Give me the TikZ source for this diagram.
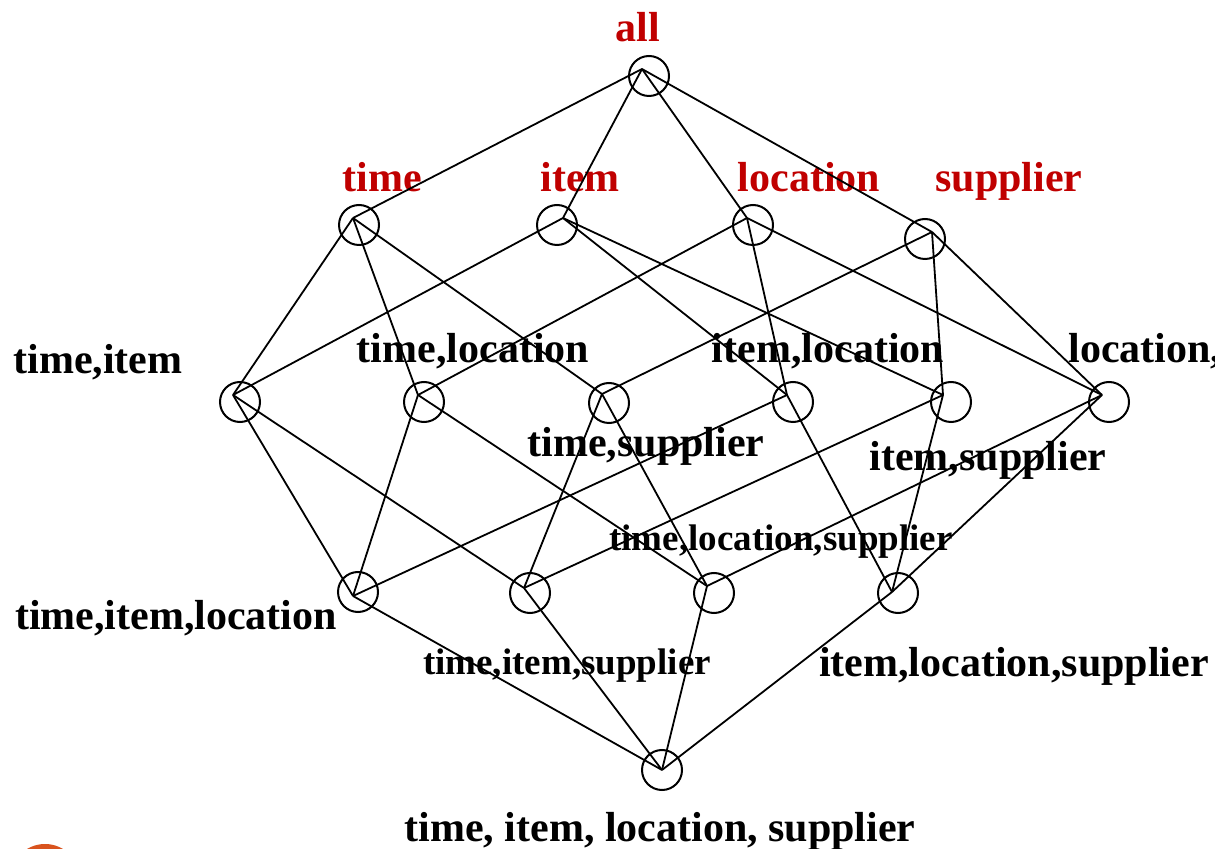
\documentclass[tikz,border=0pt]{standalone}
\usepackage{fontspec}
\setmainfont{Liberation Serif}
\usepackage{tikz}
\usetikzlibrary{positioning}
\definecolor{cubered}{HTML}{C00000}
\definecolor{logoorange}{HTML}{D9531E}

\begin{document}
\begin{tikzpicture}[
  x=0.5pt, y=-0.5pt,
  cuboid/.style={draw, circle, minimum size=20pt, inner sep=0pt, line width=1pt},
  lbl/.style={anchor=base, inner sep=0pt, font=\fontsize{21}{25}\selectfont\bfseries},
  lbltop/.style={lbl, text=cubered},
  lblsmall/.style={anchor=base, inner sep=0pt, font=\fontsize{18.5}{22}\selectfont\bfseries},
  edge/.style={line width=0.9pt}
]
  \useasboundingbox (0,0) rectangle (1215,849);
  \clip (0,0) rectangle (1215,849);

  % corner logo
  \fill[logoorange] (45,879) circle[radius=35];

  % meeting points of the lines
  \coordinate (j-all) at (642,69);
  \coordinate (j-t) at (353,218);
  \coordinate (j-i) at (563,218);
  \coordinate (j-l) at (747,218);
  \coordinate (j-s) at (932,232);
  \coordinate (j-ti) at (233,395);
  \coordinate (j-tl) at (418,395);
  \coordinate (j-ts) at (602,394);
  \coordinate (j-il) at (787,395);
  \coordinate (j-is) at (943,395);
  \coordinate (j-ls) at (1102,395);
  \coordinate (j-til) at (353,596);
  \coordinate (j-tis) at (524,588);
  \coordinate (j-tls) at (707,586);
  \coordinate (j-ils) at (892,592);
  \coordinate (j-tils) at (662,770);

  % cuboids
  \node[cuboid] (all) at (649,76) {};
  \node[cuboid] (t) at (359,225) {};
  \node[cuboid] (i) at (557,225) {};
  \node[cuboid] (l) at (753,225) {};
  \node[cuboid] (s) at (925,239) {};
  \node[cuboid] (ti) at (240,402) {};
  \node[cuboid] (tl) at (424,402) {};
  \node[cuboid] (ts) at (609,403) {};
  \node[cuboid] (il) at (793,402) {};
  \node[cuboid] (is) at (951,402) {};
  \node[cuboid] (ls) at (1109,402) {};
  \node[cuboid] (til) at (358,592) {};
  \node[cuboid] (tis) at (530,593) {};
  \node[cuboid] (tls) at (714,593) {};
  \node[cuboid] (ils) at (898,593) {};
  \node[cuboid] (tils) at (662,770) {};

  % labels
  \node[lbltop] (all-lbl) at (638,42) {all};
  \node[lbltop] (t-lbl) at (382,192) {time};
  \node[lbltop] (i-lbl) at (580,192) {item};
  \node[lbltop] (l-lbl) at (809,192) {location};
  \node[lbltop] (s-lbl) at (1009,192) {supplier};
  \node[lbl] (ti-lbl) at (98,374) {time,item};
  \node[lbl] (tl-lbl) at (473,363) {time,location};
  \node[lbl] (il-lbl) at (828,363) {item,location};
  \node[lbl, anchor=base west] (ls-lbl) at (1068,363) {location,supplier};
  \node[lbl] (ts-lbl) at (646,457) {time,supplier};
  \node[lbl] (is-lbl) at (988,471) {item,supplier};
  \node[lblsmall] (tls-lbl) at (781,551) {time,location,supplier};
  \node[lbl] (til-lbl) at (176,629) {time,item,location};
  \node[lblsmall] (tis-lbl) at (567,674) {time,item,supplier};
  \node[lbl] (ils-lbl) at (1014,676) {item,location,supplier};
  \node[lbl] (tils-lbl) at (660,841) {time, item, location, supplier};

  % apex to 1-D
  \draw[edge] (j-all) -- (j-t);
  \draw[edge] (j-all) -- (j-i);
  \draw[edge] (j-all) -- (j-l);
  \draw[edge] (j-all) -- (j-s);

  % 1-D to 2-D
  \draw[edge] (j-t) -- (j-ti);
  \draw[edge] (j-t) -- (j-tl);
  \draw[edge] (j-t) -- (j-ts);
  \draw[edge] (j-i) -- (j-ti);
  \draw[edge] (j-i) -- (j-il);
  \draw[edge] (j-i) -- (j-is);
  \draw[edge] (j-l) -- (j-tl);
  \draw[edge] (j-l) -- (j-il);
  \draw[edge] (j-l) -- (j-ls);
  \draw[edge] (j-s) -- (j-ts);
  \draw[edge] (j-s) -- (j-is);
  \draw[edge] (j-s) -- (j-ls);

  % 2-D to 3-D
  \draw[edge] (j-ti) -- (j-til);
  \draw[edge] (j-ti) -- (j-tis);
  \draw[edge] (j-tl) -- (j-til);
  \draw[edge] (j-tl) -- (j-tls);
  \draw[edge] (j-ts) -- (j-tis);
  \draw[edge] (j-ts) -- (j-tls);
  \draw[edge] (j-il) -- (j-til);
  \draw[edge] (j-il) -- (j-ils);
  \draw[edge] (j-is) -- (j-tis);
  \draw[edge] (j-is) -- (j-ils);
  \draw[edge] (j-ls) -- (j-tls);
  \draw[edge] (j-ls) -- (j-ils);

  % 3-D to base
  \draw[edge] (j-til) -- (j-tils);
  \draw[edge] (j-tis) -- (j-tils);
  \draw[edge] (j-tls) -- (j-tils);
  \draw[edge] (j-ils) -- (j-tils);
\end{tikzpicture}
\end{document}
